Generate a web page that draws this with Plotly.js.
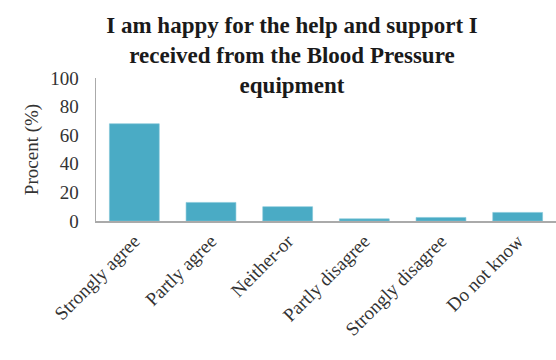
<!DOCTYPE html>
<html><head><meta charset="utf-8">
<script src="https://cdn.plot.ly/plotly-3.0.1.min.js"></script>
<style>html,body{margin:0;padding:0;background:#fff}#chart{width:556px;height:360px}</style>
</head><body><div id="chart"></div>
<script>
const categories = ["Strongly agree","Partly agree","Neither-or","Partly disagree","Strongly disagree","Do not know"];
const percentValues = [68, 13, 10, 1.5, 2.5, 6];
const yTicks = [0,20,40,60,80,100];

const serif = "'Liberation Serif', 'Times New Roman', Times, serif";
const trace = {
  type: "bar",
  x: categories,
  y: percentValues,
  marker: {color: "#4AABC5", line: {color: "#7fc6d8", width: 0.6}},
  width: 0.65,
  hoverinfo: "none"
};
const layout = {
  width: 556, height: 360,
  margin: {l: 96, r: 0, t: 78, b: 139},
  paper_bgcolor: "#fff", plot_bgcolor: "#fff",
  font: {family: serif, color: "#333", size: 19},
  title: {
    text: "<b>I am happy for the help and support I<br>received from the Blood Pressure<br>equipment</b>",
    font: {family: serif, size: 23, color: "#1a1a1a"},
    x: 292/556, xanchor: "center", xref: "container",
    y: 1 - 33/360, yanchor: "middle", yref: "container"
  },
  xaxis: {
    type: "category",
    tickangle: -45,
    showline: true, linecolor: "#aaa", linewidth: 1.5,
    ticks: "", showgrid: false,
    tickfont: {family: serif, size: 19, color: "#333"},
    range: [-0.5, 5.5]
  },
  yaxis: {
    range: [0, 100],
    tickvals: yTicks,
    showline: true, linecolor: "#aaa", linewidth: 1.5,
    ticks: "", showgrid: false, zeroline: false,
    tickfont: {family: serif, size: 19, color: "#333"},
    ticklabelstandoff: 12,
    title: {text: "Procent (%)", font: {family: serif, size: 19, color: "#333"}, standoff: 6}
  },
  showlegend: false,
  bargap: 0.35
};
Plotly.newPlot("chart", [trace], layout, {displayModeBar: false, staticPlot: true});
</script></body></html>
